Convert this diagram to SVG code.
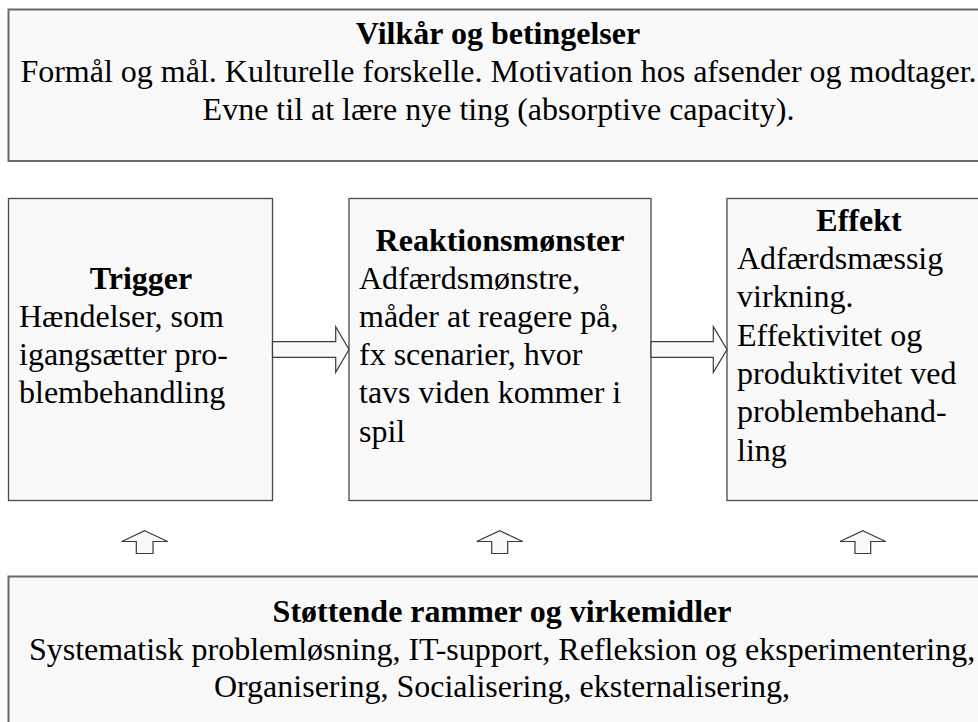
<svg xmlns="http://www.w3.org/2000/svg" width="978" height="722" viewBox="0 0 978 722">
  <defs>
    <style>
      .box { fill: #f9f9f9; stroke: #4a4a4a; stroke-width: 1.3; }
      .wide { fill: #f9f9f9; stroke: #6a6a6a; stroke-width: 2; }
      .arrow { fill: #f9f9f9; stroke: #3a3a3a; stroke-width: 1.2; stroke-linejoin: miter; }
      text { font-family: "Liberation Serif", "Times New Roman", serif; font-size: 32px; fill: #000; }
      .t { font-weight: bold; }
      .c { text-anchor: middle; }
    </style>
  </defs>
  <rect width="978" height="722" fill="#ffffff"/>

  <g id="vilkaar">
    <rect class="wide" x="8.5" y="9.5" width="990" height="151.5"/>
    <text class="t c" x="498" y="43.5">Vilkår og betingelser</text>
    <text class="c" x="498.5" y="81.7">Formål og mål. Kulturelle forskelle. Motivation hos afsender og modtager.</text>
    <text class="c" x="498.5" y="119.5">Evne til at lære nye ting (absorptive capacity).</text>
  </g>

  <g id="trigger">
    <rect class="box" x="8.5" y="198.5" width="264" height="302"/>
    <text class="t c" x="141" y="288.5">Trigger</text>
    <text x="19" y="326.7">Hændelser, som</text>
    <text x="19" y="365">igangsætter pro-</text>
    <text x="19" y="403.3">blembehandling</text>
  </g>

  <g id="reaktion">
    <rect class="box" x="349" y="198.5" width="302" height="302"/>
    <text class="t c" x="500" y="250.5">Reaktionsmønster</text>
    <text x="359" y="288.5">Adfærdsmønstre,</text>
    <text x="359" y="326.7">måder at reagere på,</text>
    <text x="359" y="365">fx scenarier, hvor</text>
    <text x="359" y="403.3">tavs viden kommer i</text>
    <text x="359" y="441.6">spil</text>
  </g>

  <g id="effekt">
    <rect class="box" x="727" y="198.5" width="264" height="302"/>
    <text class="t c" x="859" y="230.7">Effekt</text>
    <text x="737" y="269">Adfærdsmæssig</text>
    <text x="737" y="307.3">virkning.</text>
    <text x="737" y="345.6">Effektivitet og</text>
    <text x="737" y="384">produktivitet ved</text>
    <text x="737" y="422.3">problembehand-</text>
    <text x="737" y="460.6">ling</text>
  </g>

  <g id="stoettende">
    <rect class="wide" x="8.5" y="576.5" width="990" height="160"/>
    <text class="t c" x="502" y="621.7">Støttende rammer og virkemidler</text>
    <text class="c" x="502" y="660">Systematisk problemløsning, IT-support, Refleksion og eksperimentering,</text>
    <text class="c" x="502" y="697">Organisering, Socialisering, eksternalisering,</text>
  </g>

  <g id="connectors">
    <polygon class="arrow" points="272.5,341.7 335.7,341.7 335.7,326.7 349,349.5 335.7,372.3 335.7,357.3 272.5,357.3"/>
    <polygon class="arrow" points="651,341.7 713.3,341.7 713.3,326.7 727,349.5 713.3,372.3 713.3,357.3 651,357.3"/>
    <polygon class="arrow" points="144.7,530.7 167.7,541.5 153,541.5 153,553.5 136.3,553.5 136.3,541.5 121.7,541.5"/>
    <polygon class="arrow" points="499.7,530.7 522.7,541.5 507.7,541.5 507.7,553.5 491.7,553.5 491.7,541.5 476.7,541.5"/>
    <polygon class="arrow" points="862.8,530.7 885.7,541.5 870.7,541.5 870.7,553.5 855,553.5 855,541.5 840,541.5"/>
  </g>
</svg>
